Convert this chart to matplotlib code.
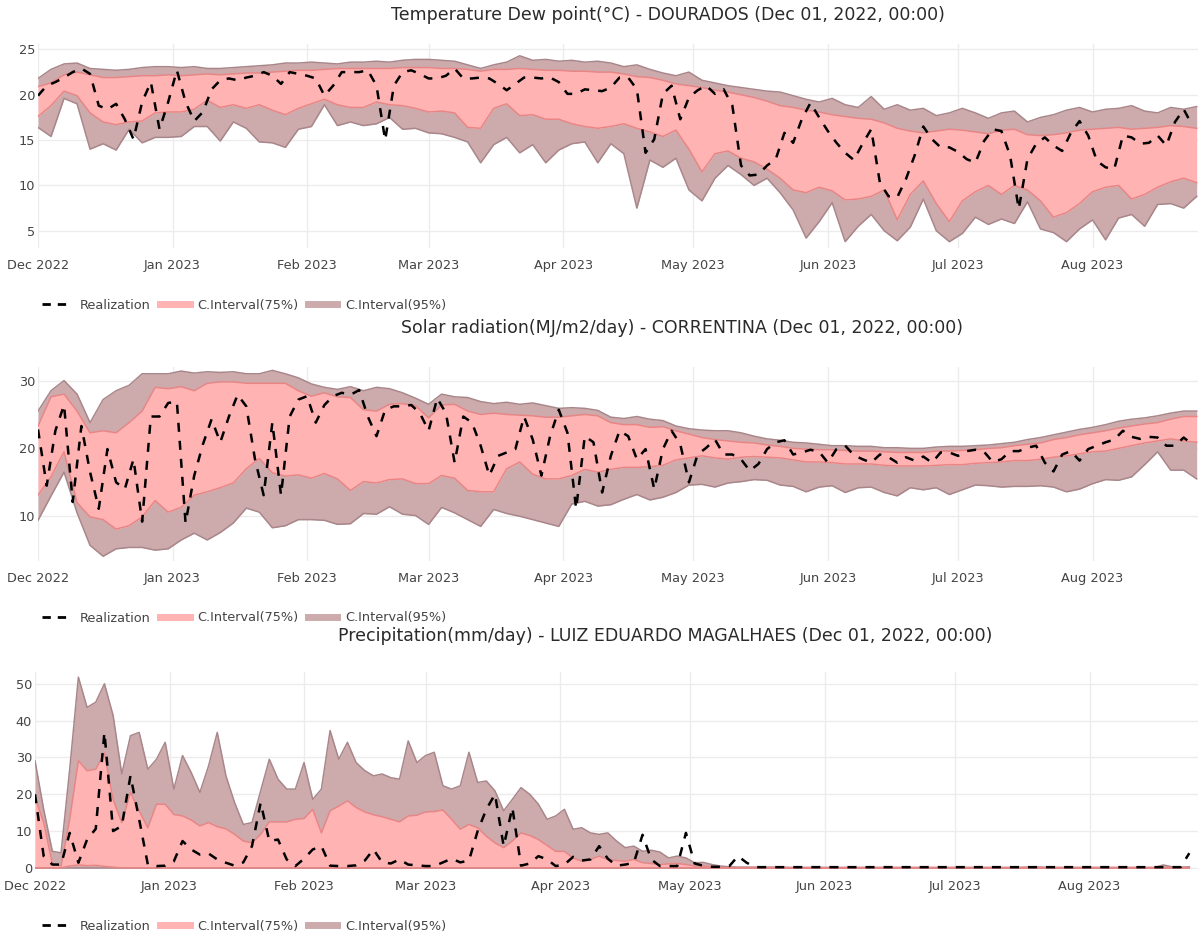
import pandas as pd
import matplotlib
matplotlib.use("Agg")
import matplotlib.pyplot as plt
import matplotlib.dates as mdates
from matplotlib.lines import Line2D

plt.rcParams["font.family"] = ["DejaVu Sans"]
plt.rcParams["lines.scale_dashes"] = False

START = "2022-12-01"
band_dates = pd.date_range(START, periods=90, freq="3D")   # bands, every 3 days
real_dates = pd.date_range(START, periods=134, freq="2D")  # realizations, every 2 days

# --- Temperature dew point, DOURADOS ---
dew_up95 = [
    21.8, 22.8, 23.4, 23.5, 22.9, 22.8, 22.7, 22.8, 23.0, 23.1,
    23.1, 23.0, 23.1, 22.9, 22.9, 23.0, 23.1, 23.2, 23.3, 23.5,
    23.5, 23.6, 23.5, 23.4, 23.6, 23.6, 23.7, 23.6, 23.8, 23.9,
    23.9, 23.8, 23.7, 23.3, 22.9, 23.3, 23.6, 24.3, 23.8, 23.9,
    23.7, 23.8, 23.6, 23.7,
    23.5, 23.1, 23.3, 22.8, 22.4, 22.1, 22.5, 21.6, 21.3, 21.0,
    20.8, 20.6, 20.4, 20.3, 19.9, 19.5, 19.2, 19.6, 18.9, 18.6,
    19.8, 18.4, 18.9, 18.3, 18.5, 17.7, 18.0, 18.5, 18.0, 17.4,
    18.0, 18.2, 17.0, 17.5, 17.8, 18.3, 18.6, 18.1, 18.4, 18.5,
    18.8, 18.2, 18.0, 18.6, 18.4, 18.7]
dew_up75 = [
    20.9, 21.3, 22.2, 22.5, 22.2, 21.9, 21.9, 22.0, 22.1, 22.1,
    22.2, 22.1, 22.2, 22.3, 22.2, 22.3, 22.4, 22.4, 22.5, 22.6,
    22.7, 22.7, 22.8, 22.9, 22.9, 22.9, 22.9, 22.9, 23.0, 23.0,
    23.0, 22.9, 22.9, 22.8, 22.6, 22.8, 22.8, 22.9, 22.8, 22.7,
    22.7, 22.6, 22.6, 22.5,
    22.5, 22.3, 22.0, 21.9, 21.6, 21.2, 21.0, 20.8, 20.5, 20.3,
    20.0, 19.7, 19.3, 18.8, 18.6, 18.3, 18.1, 17.8, 17.6, 17.4,
    17.3, 16.9, 16.3, 16.0, 15.8, 16.0, 16.2, 16.1, 15.9, 15.7,
    16.1, 16.2, 15.6, 15.5, 15.6, 15.8, 16.1, 16.2, 16.3, 16.4,
    16.2, 16.3, 16.4, 16.6, 16.5, 16.3]
dew_lo75 = [
    17.6, 18.8, 20.4, 19.9, 18.0, 17.0, 16.7, 17.0, 17.1, 18.0,
    18.1, 18.1, 18.4, 19.4, 18.6, 18.9, 18.5, 18.9, 18.3, 17.8,
    18.5, 19.0, 19.5, 18.9, 18.6, 18.6, 19.2, 18.9, 18.8, 18.5,
    18.1, 18.2, 18.0, 16.4, 16.3, 18.5, 19.0, 17.7, 17.8, 17.3,
    17.3, 16.8, 16.5, 16.3,
    16.5, 16.8, 16.3, 15.9, 15.4, 16.1, 14.0, 11.5, 13.5, 13.8,
    13.0, 12.6, 11.8, 10.8, 9.5, 9.2, 9.8, 9.4, 8.4, 8.5,
    8.8, 9.5, 6.2, 9.0, 10.5, 8.0, 6.0, 8.3, 9.3, 10.0,
    9.0, 10.0, 9.5, 8.3, 6.5, 7.0, 8.0, 9.3, 9.8, 10.0,
    8.5, 9.0, 9.8, 10.4, 10.8, 10.3]
dew_lo95 = [
    16.4, 15.4, 19.6, 19.0, 14.0, 14.6, 13.9, 16.2, 14.7, 15.3,
    15.3, 15.4, 16.5, 16.5, 14.9, 17.0, 16.3, 14.8, 14.7, 14.2,
    16.2, 16.5, 18.9, 16.6, 17.0, 16.6, 16.8, 17.5, 16.2, 16.3,
    15.8, 15.7, 15.3, 14.8, 12.5, 14.5, 15.3, 13.6, 14.5, 12.5,
    13.9, 14.6, 14.8, 12.5,
    14.6, 13.5, 7.5, 12.8, 12.0, 13.0, 9.5, 8.3, 10.8, 12.2,
    11.2, 10.0, 10.8, 9.2, 7.3, 4.2, 6.0, 8.1, 3.8, 5.5,
    6.8, 5.0, 3.9, 5.4, 8.5, 5.0, 3.8, 4.7, 6.5, 5.7,
    6.3, 5.8, 8.2, 5.2, 4.8, 3.8, 5.2, 6.2, 4.0, 6.4,
    6.8, 5.5, 7.9, 8.0, 7.5, 8.8]
dew_real = [
    19.9, 21.0, 21.4, 21.9, 22.5, 22.9, 22.3, 18.8, 18.4, 19.0,
    17.3, 15.1, 19.2, 21.4, 16.2, 19.2, 22.7, 19.2, 17.1, 18.1,
    20.6, 21.6, 21.8, 21.6, 21.9, 22.1, 22.5, 22.1, 21.2, 22.5,
    22.3, 22.1, 21.8, 19.9, 21.0, 22.5, 22.5, 22.5, 22.7, 21.0,
    15.0, 21.0, 22.5, 22.7, 22.3, 21.8, 21.8, 22.1, 22.9, 21.8,
    21.8, 21.9, 21.8, 21.2, 20.5, 21.2, 21.9, 21.9, 21.8, 21.9,
    21.4, 20.1, 20.1, 20.6, 20.5,
    20.4, 20.8, 21.9, 21.9, 20.6, 13.6, 15.1, 20.1, 21.0, 17.3,
    19.7, 20.5, 21.0, 20.1, 20.6, 18.8, 12.2, 11.1, 11.2, 12.2,
    12.9, 15.8, 14.7, 17.3, 19.1, 17.5, 16.0, 14.7, 13.6, 12.8,
    14.6, 16.2, 10.3, 8.8, 8.7, 10.7, 13.3, 16.5, 15.1, 14.2,
    14.2, 13.7, 12.9, 12.5, 14.9, 16.2, 16.0, 13.3, 7.4, 12.9,
    14.6, 15.3, 14.4, 13.8, 15.8, 17.1, 15.5, 12.7, 12.0, 11.8,
    15.5, 15.3, 14.6, 14.7, 15.5, 14.4, 17.0, 18.4, 16.6]

# --- Solar radiation, CORRENTINA ---
solar_up95 = [
    25.5, 28.5, 30.0, 28.0, 23.8, 27.2, 28.5, 29.3, 31.0, 31.0,
    31.0, 31.4, 31.1, 31.3, 31.2, 31.3, 31.0, 31.0, 31.5, 31.0,
    30.4, 29.5, 29.0, 28.7, 29.1, 28.5, 29.0, 28.8, 28.2, 27.4,
    26.5, 28.0, 27.6, 27.5, 26.9, 26.6, 26.8, 26.5, 26.7, 26.3,
    25.9, 26.0, 25.9, 25.6,
    24.6, 24.4, 24.7, 24.3, 24.1, 23.3, 22.9, 22.7, 22.6, 22.6,
    22.3, 21.8, 21.4, 21.2, 20.9, 20.8, 20.6, 20.4, 20.4, 20.3,
    20.3, 20.1, 20.1, 20.0, 20.0, 20.2, 20.3, 20.3, 20.4, 20.5,
    20.7, 20.9, 21.3, 21.6, 22.0, 22.4, 22.8, 23.1, 23.5, 24.0,
    24.3, 24.5, 24.8, 25.2, 25.5, 25.5]
solar_up75 = [
    23.3, 27.6, 28.0, 25.5, 22.3, 22.6, 22.3, 23.8, 25.5, 29.0,
    28.8, 29.1, 28.5, 29.6, 29.8, 29.8, 29.6, 29.6, 29.6, 29.6,
    28.5, 27.7, 28.2, 27.6, 27.5, 25.7, 25.5, 26.5, 26.6, 26.3,
    24.5, 26.4, 26.5, 25.5, 25.0, 25.2, 25.0, 24.9, 24.8, 24.6,
    24.6, 24.8, 25.0, 24.8,
    23.8, 23.5, 23.5, 23.1, 23.2, 22.6, 22.1, 21.6, 21.3, 21.1,
    20.9, 20.8, 20.5, 20.3, 20.0, 19.9, 19.8, 19.8, 19.7, 19.6,
    19.6, 19.5, 19.4, 19.4, 19.4, 19.6, 19.6, 19.7, 19.8, 20.0,
    20.1, 20.4, 20.6, 20.8, 21.3, 21.6, 22.0, 22.3, 22.6, 23.0,
    23.3, 23.6, 23.8, 24.3, 24.7, 24.7]
solar_lo75 = [
    13.1, 15.8, 19.5, 12.0, 9.9, 9.5, 8.1, 8.6, 9.9, 12.3,
    10.6, 11.3, 13.1, 13.6, 14.2, 14.9, 17.0, 18.5, 16.4, 15.9,
    16.1, 15.6, 16.3, 15.5, 13.8, 15.1, 14.9, 15.4, 15.5, 14.8,
    14.8, 16.0, 15.6, 13.8, 13.6, 13.6, 17.0, 18.0, 16.2, 15.5,
    15.5, 16.0, 16.9, 16.5,
    16.9, 17.2, 17.2, 17.3, 17.5, 18.3, 18.6, 18.9, 18.6, 18.4,
    18.7, 18.8, 18.7, 18.6, 18.3, 18.0, 18.0, 17.9, 17.7, 17.7,
    17.7, 17.5, 17.4, 17.4, 17.4, 17.5, 17.6, 17.6, 17.8, 17.9,
    18.0, 18.2, 18.2, 18.4, 18.7, 18.9, 19.2, 19.5, 19.6, 20.0,
    20.4, 20.8, 21.1, 21.4, 21.1, 20.9]
solar_lo95 = [
    9.4, 13.0, 16.5, 10.5, 5.7, 4.1, 5.2, 5.4, 5.4, 5.0,
    5.2, 6.5, 7.5, 6.5, 7.6, 9.0, 11.2, 10.6, 8.3, 8.6,
    9.5, 9.5, 9.4, 8.8, 8.9, 10.4, 10.3, 11.4, 10.3, 10.1,
    8.8, 11.3, 10.5, 9.5, 8.5, 11.0, 10.4, 10.0, 9.5, 9.0,
    8.5, 11.8, 12.2, 11.5,
    11.7, 12.5, 13.2, 12.4, 12.8, 13.5, 14.6, 14.7, 14.3, 14.9,
    15.1, 15.4, 15.3, 14.6, 14.4, 13.6, 14.3, 14.5, 13.5, 14.2,
    14.3, 13.5, 13.0, 14.2, 13.9, 14.2, 13.2, 13.9, 14.6, 14.5,
    14.3, 14.4, 14.4, 14.5, 14.3, 13.6, 14.0, 14.8, 15.4, 15.3,
    15.8, 17.6, 19.5, 16.8, 16.8, 15.5]
solar_real = [
    22.8, 14.5, 22.6, 26.4, 12.1, 23.3, 16.5, 11.1, 19.9, 15.0,
    14.0, 18.4, 9.2, 24.7, 24.7, 26.7, 26.9, 9.0, 16.0, 20.6,
    24.3, 20.9, 24.7, 27.9, 26.2, 18.4, 13.1, 23.8, 13.1, 24.7,
    27.2, 27.7, 23.8, 26.4, 27.7, 28.2, 27.9, 28.6, 24.7, 21.8,
    25.7, 26.2, 26.2, 26.4, 25.2, 22.6, 27.4, 25.2, 17.9, 24.7,
    23.8, 20.4, 16.0, 18.9, 19.4, 19.9, 24.7, 21.3, 16.0, 21.8,
    25.7, 22.3, 11.1, 21.8, 20.9,
    13.5, 18.9, 22.6, 21.8, 18.4, 19.9, 14.0, 19.9, 22.6, 20.6,
    15.0, 19.1, 20.1, 21.3, 19.1, 19.1, 18.4, 16.7, 17.7, 19.9,
    20.9, 21.2, 19.1, 19.4, 19.8, 19.5, 17.9, 19.9, 20.4, 19.0,
    18.4, 17.9, 19.1, 18.7, 17.9, 18.7, 18.2, 18.8, 17.9, 19.4,
    19.4, 18.9, 19.6, 19.8, 19.5, 18.0, 18.4, 19.6, 19.6, 20.1,
    20.4, 17.9, 16.6, 19.1, 19.6, 18.2, 19.9, 20.4, 20.9, 21.3,
    22.6, 21.7, 21.4, 21.7, 21.6, 20.4, 20.4, 21.6, 20.6]

# --- Precipitation, LUIZ EDUARDO MAGALHAES (every 2 days) ---
rain_up95 = [
    29.1, 15.9, 4.5, 4.1, 26.8, 51.8, 43.6, 45.0, 50.0, 41.4,
    25.5, 35.9, 36.8, 26.8, 29.5, 34.1, 21.4, 30.5, 25.9, 20.5,
    27.7, 36.8, 25.0, 17.7, 11.8, 12.3, 20.9, 29.5, 24.1, 21.4,
    21.4, 28.6, 18.6, 21.4, 37.3, 29.5, 34.1, 28.6, 26.4, 25.0,
    25.5, 24.5, 24.1, 34.5, 28.6, 30.5, 31.4, 22.3, 21.4, 22.3,
    31.4, 23.2, 23.6, 20.9, 15.5, 18.6, 21.8, 20.0, 17.3, 13.2,
    14.1, 15.9, 10.5, 10.9, 9.5,
    9.1, 9.5, 7.3, 5.5, 5.9, 4.5, 4.8, 4.3, 2.7, 3.2,
    2.7, 1.4, 1.5, 0.9, 0.5, 0.3, 0.2, 0.2, 0.2, 0.2,
    0.2, 0.2, 0.1, 0.1, 0.1, 0.1, 0.1, 0.1, 0.1, 0.1,
    0.1, 0.1, 0.1, 0.1, 0.1, 0.1, 0.1, 0.1, 0.1, 0.1,
    0.1, 0.1, 0.1, 0.1, 0.1, 0.1, 0.1, 0.1, 0.1, 0.2,
    0.3, 0.2, 0.1, 0.1, 0.1, 0.1, 0.1, 0.1, 0.1, 0.1,
    0.1, 0.1, 0.1, 0.1, 0.1, 0.8, 0.3, 0.2, 0.3]
rain_up75 = [
    19.1, 12.3, 1.2, 0.5, 13.2, 29.1, 26.4, 26.8, 31.2, 18.6,
    12.3, 20.5, 15.5, 10.9, 17.3, 17.3, 14.5, 14.1, 13.0, 11.4,
    12.3, 11.2, 10.6, 9.1, 7.3, 6.8, 9.1, 12.5, 12.5, 12.5,
    13.2, 13.4, 15.9, 9.5, 15.5, 16.8, 18.2, 16.4, 15.2, 14.4,
    13.9, 13.2, 12.5, 14.1, 14.3, 15.2, 15.3, 15.7, 13.2, 10.5,
    11.8, 10.9, 8.6, 6.8, 5.5, 7.3, 9.5, 8.8, 7.7, 6.1,
    4.5, 4.5, 2.7, 1.8, 2.3,
    3.2, 2.3, 2.0, 1.8, 2.3, 1.4, 1.2, 0.9, 1.1, 1.2,
    0.9, 0.5, 0.5, 0.3, 0.1, 0.1, 0.1, 0.1, 0.1, 0.1,
    0.1, 0.1, 0.1, 0.1, 0.1, 0.1, 0.1, 0.1, 0.1, 0.1,
    0.1, 0.1, 0.1, 0.1, 0.1, 0.1, 0.1, 0.1, 0.1, 0.1,
    0.1, 0.1, 0.1, 0.1, 0.1, 0.1, 0.1, 0.1, 0.1, 0.1,
    0.1, 0.1, 0.1, 0.1, 0.1, 0.1, 0.1, 0.1, 0.1, 0.1,
    0.1, 0.1, 0.1, 0.1, 0.1, 0.1, 0.1, 0.1, 0.1]
rain_lo75 = [
    0.0, 0.0, 0.0, 0.0, 0.5, 0.8, 0.6, 0.7, 0.4, 0.2,
    0.0, 0.0, 0.0, 0.0, 0.0, 0.0, 0.0, 0.0, 0.0, 0.0,
    0.0, 0.0, 0.0, 0.0, 0.0, 0.0, 0.0, 0.0, 0.0, 0.0,
    0.0, 0.0, 0.0, 0.0, 0.0, 0.0, 0.0, 0.0, 0.0, 0.0,
    0.0, 0.0, 0.0, 0.0, 0.0, 0.0, 0.0, 0.0, 0.0, 0.0,
    0.0, 0.0, 0.0, 0.0, 0.0, 0.0, 0.0, 0.0, 0.0, 0.0,
    0.0, 0.0, 0.0, 0.0, 0.0,
    0.0, 0.0, 0.0, 0.0, 0.0, 0.0, 0.0, 0.0, 0.0, 0.0,
    0.0, 0.0, 0.0, 0.0, 0.0, 0.0, 0.0, 0.0, 0.0, 0.0,
    0.0, 0.0, 0.0, 0.0, 0.0, 0.0, 0.0, 0.0, 0.0, 0.0,
    0.0, 0.0, 0.0, 0.0, 0.0, 0.0, 0.0, 0.0, 0.0, 0.0,
    0.0, 0.0, 0.0, 0.0, 0.0, 0.0, 0.0, 0.0, 0.0, 0.0,
    0.0, 0.0, 0.0, 0.0, 0.0, 0.0, 0.0, 0.0, 0.0, 0.0,
    0.0, 0.0, 0.0, 0.0, 0.0, 0.0, 0.0, 0.0, 0.0]
rain_lo95 = [0.0 for _ in rain_lo75]
rain_real = [
    20.0, 3.2, 0.9, 0.9, 9.5, 1.4, 7.7, 10.6, 36.8, 10.0,
    11.4, 25.0, 13.2, 0.9, 0.5, 0.6, 1.8, 7.3, 5.0, 3.6,
    3.9, 2.3, 1.4, 0.6, 1.5, 5.9, 17.7, 7.3, 7.7, 2.3,
    0.5, 2.5, 5.0, 5.9, 0.6, 0.5, 0.5, 0.7, 2.0, 5.0,
    1.5, 1.2, 2.3, 0.9, 0.7, 0.5, 0.5, 1.5, 2.5, 1.5,
    2.0, 10.0, 15.9, 20.0, 5.9, 16.4, 0.6, 1.2, 3.2, 2.3,
    0.5, 0.9, 3.0, 2.0, 2.3,
    5.9, 2.5, 0.6, 0.9, 1.4, 9.0, 2.3, 0.5, 0.5, 0.5,
    9.5, 1.2, 0.6, 0.3, 0.3, 0.5, 3.2, 1.4, 0.2, 0.2,
    0.2, 0.2, 0.2, 0.2, 0.2, 0.2, 0.2, 0.2, 0.2, 0.2,
    0.2, 0.2, 0.2, 0.2, 0.2, 0.2, 0.2, 0.2, 0.2, 0.2,
    0.2, 0.2, 0.2, 0.2, 0.2, 0.2, 0.2, 0.2, 0.2, 0.2,
    0.2, 0.2, 0.2, 0.2, 0.2, 0.2, 0.2, 0.2, 0.2, 0.2,
    0.2, 0.2, 0.2, 0.2, 0.2, 0.2, 0.2, 0.2, 4.0]

FILL75, EDGE75 = "#ffb3b3", "#e98585"
FILL95, EDGE95 = "#cdabad", "#a8868a"
TEXT = "#444444"
FS = 9.3
W, H = 1198, 938


def draw_panel(fig, box, title, title_x, title_y, band_x, lo95, lo75, up75, up95,
               real, yticks, ylim, ndays, legend_y):
    left, top, bottom = box
    ax = fig.add_axes([left / W, 1 - bottom / H, 1 - left / W, (bottom - top) / H])

    ax.fill_between(band_x, lo95, lo75, color=FILL95, lw=0)
    ax.fill_between(band_x, lo75, up75, color=FILL75, lw=0)
    ax.fill_between(band_x, up75, up95, color=FILL95, lw=0)
    for s in (lo95, up95):
        ax.plot(band_x, s, color=EDGE95, lw=1.1)
    for s in (lo75, up75):
        ax.plot(band_x, s, color=EDGE75, lw=1.1)
    ax.plot(real_dates, real, color="black", lw=1.8, dashes=(6.5, 6.5))

    start = pd.Timestamp(START)
    ax.set_xlim(start, start + pd.Timedelta(days=ndays))
    ax.set_ylim(*ylim)
    ax.set_yticks(yticks)
    ax.xaxis.set_major_locator(mdates.MonthLocator())
    ax.xaxis.set_major_formatter(mdates.DateFormatter("%b %Y"))
    ax.tick_params(length=0, labelsize=FS, labelcolor=TEXT)
    ax.tick_params(axis="x", pad=8)
    ax.tick_params(axis="y", pad=2)
    ax.grid(color="#ececec", lw=1)
    ax.set_axisbelow(True)
    for sp in ax.spines.values():
        sp.set_visible(False)

    fig.text(title_x / W, 1 - title_y / H, title, ha="center", va="center",
             fontsize=12.5, color="#2a2a2a")

    handles = [Line2D([], [], color="black", lw=2, dashes=(6, 5)),
               Line2D([], [], color=FILL75, lw=5),
               Line2D([], [], color=FILL95, lw=5)]
    labels = ["Realization", "C.Interval(75%)", "C.Interval(95%)"]
    ax.legend(handles, labels, loc="center left", ncol=3, frameon=False,
              bbox_to_anchor=(36 / W, 1 - legend_y / H), bbox_transform=fig.transFigure,
              fontsize=FS, labelcolor=TEXT, handlelength=2.3, handletextpad=0.6,
              columnspacing=0.7, borderpad=0)
    return ax


fig = plt.figure(figsize=(W / 100, H / 100), dpi=100)

draw_panel(fig, (38, 44, 248), "Temperature Dew point(°C) - DOURADOS (Dec 01, 2022, 00:00)",
           668, 15, band_dates, dew_lo95, dew_lo75, dew_up75, dew_up95, dew_real,
           [5, 10, 15, 20, 25], (3.1, 25.6), 267.3, 305)
draw_panel(fig, (38, 367, 561), "Solar radiation(MJ/m2/day) - CORRENTINA (Dec 01, 2022, 00:00)",
           682, 328, band_dates, solar_lo95, solar_lo75, solar_up75, solar_up95, solar_real,
           [10, 20, 30], (3.4, 32.0), 267.3, 618)
draw_panel(fig, (35, 672, 869), "Precipitation(mm/day) - LUIZ EDUARDO MAGALHAES (Dec 01, 2022, 00:00)",
           665, 636, real_dates, rain_lo95, rain_lo75, rain_up75, rain_up95, rain_real,
           [0, 10, 20, 30, 40, 50], (-0.3, 53.2), 268, 926)

fig.savefig("out.png", dpi=100)
